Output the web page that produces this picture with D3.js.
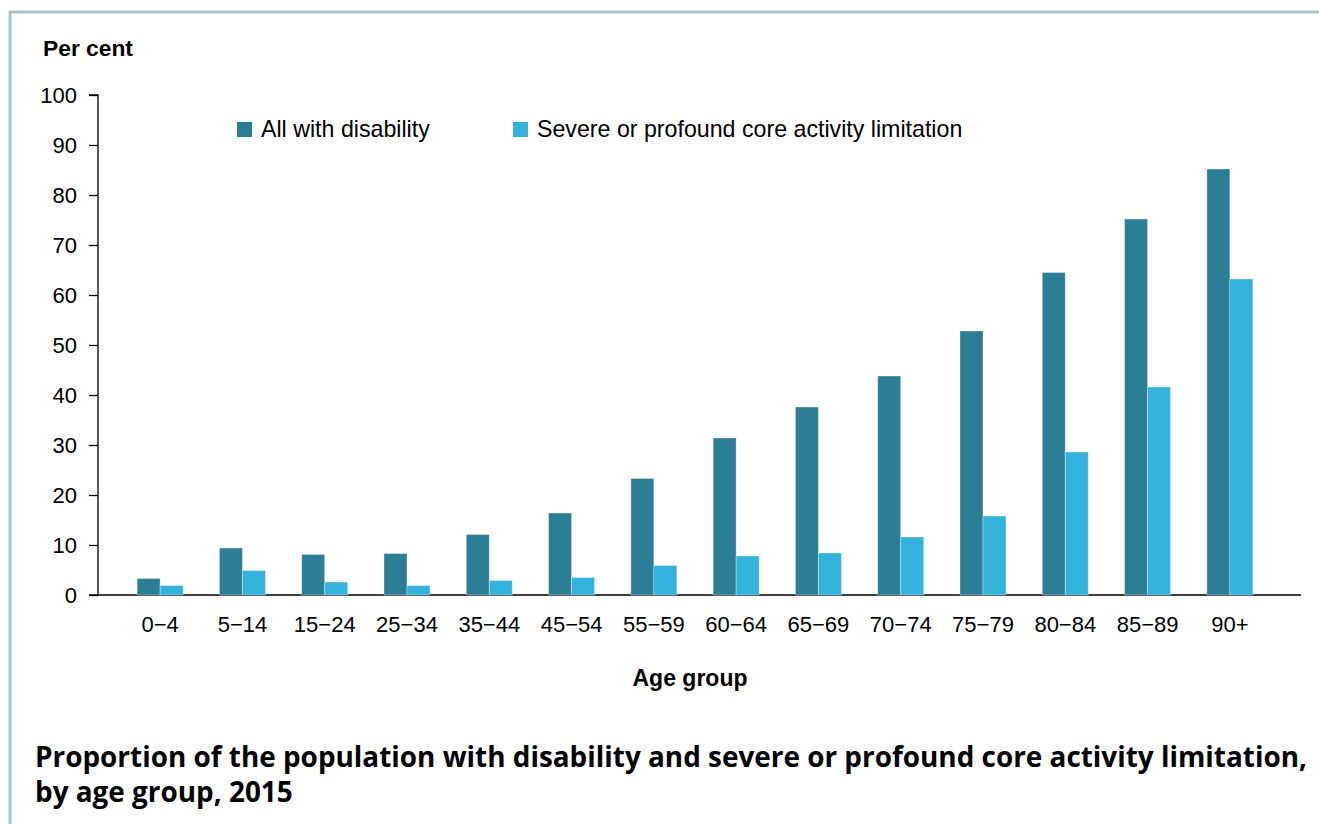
<!DOCTYPE html>
<html>
<head>
<meta charset="utf-8">
<script src="https://cdn.jsdelivr.net/npm/d3@7"></script>
<style>
  body { margin: 0; background: #fff; }
  svg { display: block; }
</style>
</head>
<body>
<div id="chart"></div>
<script>
// Data
var ageGroups = ["0\u22124", "5\u221214", "15\u221224", "25\u221234", "35\u221244", "45\u221254", "55\u221259",
                 "60\u221264", "65\u221269", "70\u221274", "75\u221279", "80\u221284", "85\u221289", "90+"];
var allDisability = [3.3, 9.4, 8.1, 8.3, 12.1, 16.4, 23.3, 31.4, 37.6, 43.8, 52.8, 64.5, 75.2, 85.2];
var severeProfound = [1.9, 4.9, 2.6, 1.9, 2.9, 3.5, 5.9, 7.8, 8.4, 11.6, 15.8, 28.6, 41.6, 63.2];
var seriesNames = ["All with disability", "Severe or profound core activity limitation"];
var seriesColors = ["#2c7e96", "#33b3db"];
var yTicks = [0, 10, 20, 30, 40, 50, 60, 70, 80, 90, 100];

var W = 1319, H = 824;
var font = "'Liberation Sans', Arial, sans-serif";
var svg = d3.select("#chart").append("svg")
    .attr("width", W)
    .attr("height", H);

// frame lines (top and left)
svg.append("line").attr("x1", 9).attr("x2", W).attr("y1", 12).attr("y2", 12)
    .attr("stroke", "#a3c5d4").attr("stroke-width", 3);
svg.append("line").attr("x1", 10).attr("x2", 10).attr("y1", 11).attr("y2", H)
    .attr("stroke", "#a3c5d4").attr("stroke-width", 3);

var y = d3.scaleLinear().domain([0, 100]).range([595, 95]);
var x = d3.scaleBand().domain(ageGroups).range([119, 1271]);
var barW = 23;

// Y axis
var yAxis = svg.append("g")
    .attr("transform", "translate(98,0)")
    .call(d3.axisLeft(y).tickValues(yTicks).tickSize(9).tickPadding(12));
yAxis.select(".domain").attr("stroke", "#000").attr("stroke-width", 1.3).attr("d", "M-9,95H0V595");
yAxis.selectAll(".tick line").attr("stroke", "#000").attr("stroke-width", 1.3);
yAxis.selectAll(".tick text")
    .attr("font-family", font)
    .attr("font-size", 22)
    .attr("fill", "#000");

// X axis
var xAxis = svg.append("g")
    .attr("transform", "translate(0,595)")
    .call(d3.axisBottom(x).tickSize(0).tickPadding(21));
xAxis.select(".domain").attr("stroke", "#000").attr("stroke-width", 1.6).attr("d", "M89,0H1301");
xAxis.selectAll(".tick text")
    .attr("font-family", font)
    .attr("font-size", 22)
    .attr("fill", "#000");

// Bars
var series = [allDisability, severeProfound];
series.forEach(function(vals, s) {
    svg.append("g").selectAll("rect")
        .data(vals)
        .enter()
        .append("rect")
        .attr("x", function(d, i) { return x(ageGroups[i]) + x.bandwidth() / 2 - barW + s * barW; })
        .attr("y", function(d) { return y(d); })
        .attr("width", barW)
        .attr("height", function(d) { return y(0) - y(d); })
        .attr("fill", seriesColors[s])
        .attr("stroke", "#ffffff")
        .attr("stroke-opacity", 0.35)
        .attr("stroke-width", 1);
});

// Legend
var legendX = [237, 513];
seriesNames.forEach(function(name, i) {
    svg.append("rect")
        .attr("x", legendX[i]).attr("y", 122)
        .attr("width", 15).attr("height", 15)
        .attr("fill", seriesColors[i]);
    svg.append("text")
        .attr("x", legendX[i] + 24).attr("y", 137)
        .attr("font-family", font)
        .attr("font-size", 23.2)
        .attr("fill", "#000")
        .text(name);
});

// Axis titles
svg.append("text")
    .attr("x", 43).attr("y", 56)
    .attr("font-family", font)
    .attr("font-size", 22.8).attr("font-weight", "bold")
    .text("Per cent");

svg.append("text")
    .attr("x", 690).attr("y", 686)
    .attr("text-anchor", "middle")
    .attr("font-family", font)
    .attr("font-size", 23).attr("font-weight", "bold")
    .text("Age group");

// Chart title
var titleLines = ["Proportion of the population with disability and severe or profound core activity limitation,",
                  "by age group, 2015"];
titleLines.forEach(function(t, i) {
    svg.append("text")
        .attr("x", 35).attr("y", 767 + i * 35)
        .attr("font-family", "'Open Sans', 'Noto Sans', sans-serif")
        .attr("font-size", 27.9).attr("font-weight", "bold")
        .attr("fill", "#000")
        .text(t);
});
</script>
</body>
</html>
